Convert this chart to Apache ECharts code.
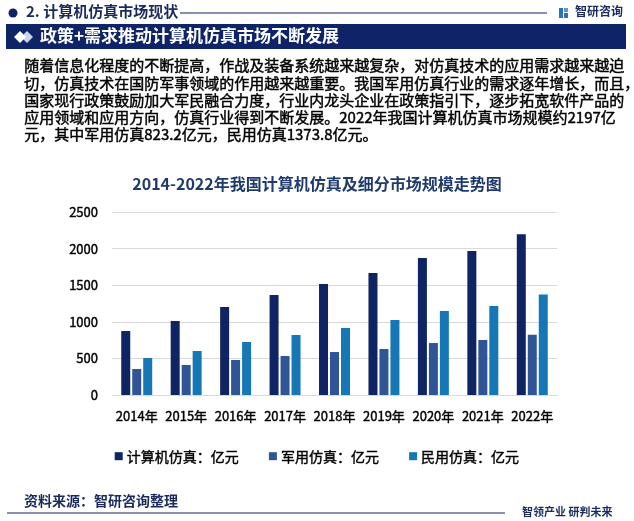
<!DOCTYPE html>
<html>
<head>
<meta charset="utf-8">
<script src="https://cdn.jsdelivr.net/npm/echarts@6/dist/echarts.min.js"></script>
<style>
html,body{margin:0;padding:0;background:#fff;}
#chart{width:634px;height:521px;}
</style>
</head>
<body>
<div id="chart"></div>
<script>
const categories = ['2014年','2015年','2016年','2017年','2018年','2019年','2020年','2021年','2022年'];
const totalValues = [874, 1011, 1202, 1366, 1516, 1667, 1872, 1967, 2197];
const militaryValues = [355, 410, 478, 533, 587, 628, 710, 751, 823.2];
const civilValues = [505, 601, 724, 820, 915, 1025, 1148, 1216, 1373.8];
const seriesNames = ['计算机仿真：亿元', '军用仿真：亿元', '民用仿真：亿元'];
const yTicks = [0, 500, 1000, 1500, 2000, 2500];
const paragraphLines = [
  '随着信息化程度的不断提高，作战及装备系统越来越复杂，对仿真技术的应用需求越来越迫',
  '切，仿真技术在国防军事领域的作用越来越重要。我国军用仿真行业的需求逐年增长，而且，',
  '国家现行政策鼓励加大军民融合力度，行业内龙头企业在政策指引下，逐步拓宽软件产品的',
  '应用领域和应用方向，仿真行业得到不断发展。2022年我国计算机仿真市场规模约2197亿',
  '元，其中军用仿真823.2亿元，民用仿真1373.8亿元。'
];

const FONT = '"Noto Sans CJK SC", "Noto Sans", sans-serif';
const NAVY = '#0f2466';
const colors = ['#0f2462', '#2f5597', '#1577b5'];

const chart = echarts.init(document.getElementById('chart'), null, {renderer: 'canvas'});

const lineYs = [68, 86, 103, 120, 137];
const paraEls = paragraphLines.map((t, i) => ({
  type: 'text', left: 24, top: lineYs[i] - 10,
  style: {text: t, font: 'normal 15px ' + FONT, fill: '#000', stroke: '#000', lineWidth: 0.45}
}));

const graphics = [
  {type: 'circle', shape: {cx: 13, cy: 13, r: 4.5}, style: {fill: NAVY}},
  {type: 'text', left: 26, top: 4, style: {text: '2. 计算机仿真市场现状', font: 'bold 15px ' + FONT, fill: '#1a2a5e'}},
  {type: 'line', shape: {x1: 180, y1: 13, x2: 547, y2: 13}, style: {stroke: NAVY, lineWidth: 1.2}},
  {type: 'rect', shape: {x: 559, y: 8, width: 4, height: 10}, style: {fill: '#2e75b6'}},
  {type: 'rect', shape: {x: 564, y: 8, width: 4, height: 4}, style: {fill: '#5b9bd5'}},
  {type: 'rect', shape: {x: 564, y: 13, width: 4, height: 5}, style: {fill: '#2e75b6'}},
  {type: 'text', left: 575, top: 5, style: {text: '智研咨询', font: 'bold 12px ' + FONT, fill: '#1a2a5e'}},
  {type: 'rect', shape: {x: 6, y: 24, width: 620, height: 25}, style: {fill: NAVY}},
  {type: 'polygon', shape: {points: [[27, 31], [33, 37], [27, 43], [21, 37]]}, style: {fill: '#c9d3ea'}},
  {type: 'polygon', shape: {points: [[20, 31], [26, 37], [20, 43], [14, 37]]}, style: {fill: '#ffffff'}},
  {type: 'text', left: 40, top: 27, style: {text: '政策+需求推动计算机仿真市场不断发展', font: 'bold 17px ' + FONT, fill: '#ffffff'}},
  ...paraEls,
  {type: 'text', left: 24, top: 494, style: {text: '资料来源：智研咨询整理', font: 'bold 14px ' + FONT, fill: '#1a2a5e'}},
  {type: 'line', shape: {x1: 7, y1: 513, x2: 505, y2: 513}, style: {stroke: NAVY, lineWidth: 1.2}},
  {type: 'text', left: 522, top: 506, style: {text: '智领产业 研判未来', font: 'bold 11px ' + FONT, fill: '#1a2a5e'}}
];

const labelStyle = {color: '#000', fontFamily: FONT, textBorderColor: '#000', textBorderWidth: 0.4};

const option = {
  backgroundColor: '#ffffff',
  animation: false,
  textStyle: {fontFamily: FONT},
  title: {
    text: '2014-2022年我国计算机仿真及细分市场规模走势图',
    left: 'center', top: 171,
    textStyle: {fontSize: 16, fontWeight: 'bold', color: '#1f3a6e', fontFamily: FONT}
  },
  legend: {
    data: seriesNames,
    left: 'center', top: 444,
    itemWidth: 8, itemHeight: 8, itemGap: 30,
    icon: 'rect',
    textStyle: Object.assign({fontSize: 14, padding: [0, 0, 0, -1]}, labelStyle)
  },
  grid: {left: 112, right: 77, top: 212, bottom: 126, containLabel: false},
  xAxis: {
    type: 'category', data: categories,
    axisLine: {show: true, lineStyle: {color: '#d9d9d9'}},
    axisTick: {show: false},
    axisLabel: Object.assign({interval: 0, fontSize: 13, margin: 15}, labelStyle)
  },
  yAxis: {
    type: 'value', min: yTicks[0], max: yTicks[yTicks.length - 1], interval: yTicks[1] - yTicks[0],
    axisLine: {show: false}, axisTick: {show: false},
    splitLine: {lineStyle: {color: '#d9d9d9'}},
    axisLabel: Object.assign({fontSize: 13, margin: 14, formatter: v => String(v)}, labelStyle)
  },
  series: [
    {name: seriesNames[0], type: 'bar', data: totalValues, barWidth: 9, barGap: '22%', itemStyle: {color: colors[0]}},
    {name: seriesNames[1], type: 'bar', data: militaryValues, barWidth: 9, barGap: '22%', itemStyle: {color: colors[1]}},
    {name: seriesNames[2], type: 'bar', data: civilValues, barWidth: 9, barGap: '22%', itemStyle: {color: colors[2]}}
  ],
  graphic: graphics
};
chart.setOption(option);
</script>
</body>
</html>
